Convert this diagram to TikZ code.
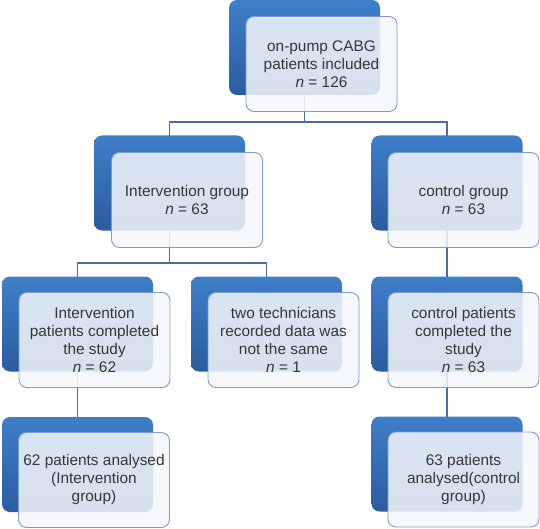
\documentclass[tikz,border=0pt]{standalone}
\usepackage{fontspec}
\setmainfont{Liberation Sans}
\usetikzlibrary{backgrounds}
\definecolor{backtop}{HTML}{3F7EC9}
\definecolor{backbot}{HTML}{2B5C9F}
\definecolor{frontline}{HTML}{7D9BCB}
\definecolor{frontfill}{HTML}{F4F7FB}
\definecolor{conn}{HTML}{4A6DA3}
\definecolor{txt}{HTML}{363636}
\begin{document}
\begin{tikzpicture}[x=1pt,y=-1pt,
  backbox/.style={rectangle, rounded corners=8pt, minimum width=151pt, minimum height=95pt,
    top color=backtop, bottom color=backbot, draw=none, inner sep=0pt},
  frontbox/.style={rectangle, rounded corners=8pt, minimum width=151pt, minimum height=95pt,
    draw=frontline, line width=0.9pt, fill=frontfill, fill opacity=0.86, text opacity=1,
    align=center, text=txt, inner sep=2pt,
    font=\fontsize{15.4pt}{18pt}\selectfont},
  link/.style={draw=conn, line width=1.2pt}]
\useasboundingbox (0,0) rectangle (540,529);
% joints
\coordinate (j1) at (304.5,122);
\coordinate (j2) at (169.5,263);
% back boxes
\node[backbox] (topb) at (304.5,47.5) {};
\node[backbox] (lgb) at (169.5,183) {};
\node[backbox] (rgb) at (447,183) {};
\node[backbox] (lcb) at (77.5,324) {};
\node[backbox] (mcb) at (266.5,324) {};
\node[backbox] (rcb) at (447,324) {};
\node[backbox] (lab) at (77.5,464.5) {};
\node[backbox] (rab) at (447,464) {};
% connectors behind everything
\begin{scope}[on background layer]
\draw[link] (topb.center) -- (j1);
\draw[link] (lgb.center) |- (j1) -| (rgb.center);
\draw[link] (lgb.center) -- (j2);
\draw[link] (lcb.center) |- (j2) -| (mcb.center);
\draw[link] (rgb.center) -- (rcb.center);
\draw[link] (rcb.center) -- (rab.center);
\draw[link] (lcb.center) -- (lab.center);
\end{scope}
% front boxes
\node[frontbox] (top) at (321.5,64) {on-pump CABG\\patients included\\\textit{n} = 126};
\node[frontbox] (lg) at (187,200) {Intervention group\\\textit{n} = 63};
\node[frontbox] (rg) at (463.5,200) {control group\\\textit{n} = 63};
\node[frontbox] (lc) at (94.5,340) {Intervention\\patients completed\\the study\\\textit{n} = 62};
\node[frontbox] (mc) at (283.5,340) {two technicians\\recorded data was\\not the same\\\textit{n} = 1};
\node[frontbox] (rc) at (463.5,340) {control patients\\completed the\\study\\\textit{n} = 63};
\node[frontbox] (la) at (94,480) {62 patients analysed\\(Intervention\\group)};
\node[frontbox] (ra) at (463.5,479.5) {63 patients\\analysed(control\\group)};
\end{tikzpicture}
\end{document}
